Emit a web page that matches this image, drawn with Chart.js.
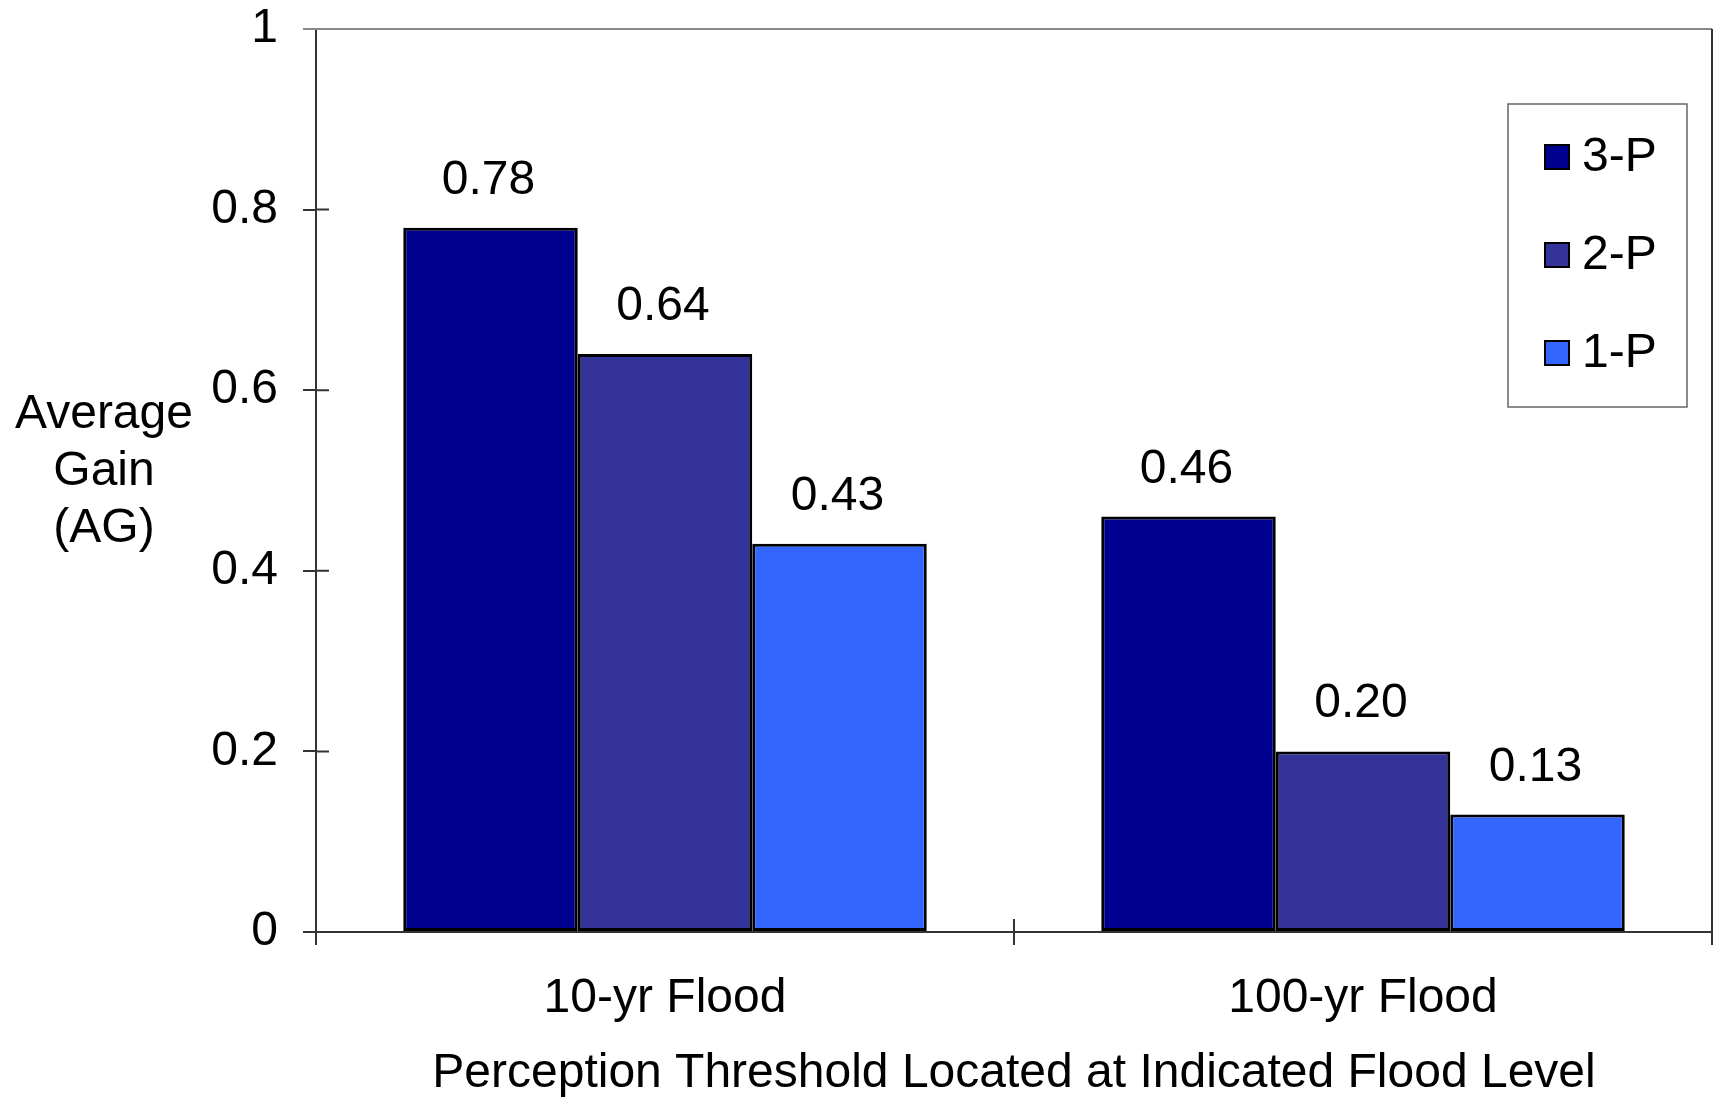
<!DOCTYPE html>
<html>
<head>
<meta charset="utf-8">
<script src="https://cdn.jsdelivr.net/npm/chart.js@4.4.1/dist/chart.umd.min.js"></script>
<style>
  body { margin: 0; background: #fff; }
  #wrap { width: 1715px; height: 1101px; }
</style>
</head>
<body>
<div id="wrap"><canvas id="myChart"></canvas></div>
<script>
const categories = ['10-yr Flood', '100-yr Flood'];
const seriesNames = ['3-P', '2-P', '1-P'];
const threeP = [0.78, 0.46];
const twoP = [0.64, 0.20];
const oneP = [0.43, 0.13];
const yTicks = [0, 0.2, 0.4, 0.6, 0.8, 1];
const yTitleLines = ['Average', 'Gain', '(AG)'];
const xTitle = 'Perception Threshold Located at Indicated Flood Level';

const FONT = '"Liberation Sans", Arial, sans-serif';
const FS = 48;
const AXIS = '#333333';

// value labels above bars
const valueLabels = {
    id: 'valueLabels',
    afterDatasetsDraw(chart) {
        const ctx = chart.ctx;
        ctx.save();
        ctx.font = FS + 'px ' + FONT;
        ctx.fillStyle = '#000';
        ctx.textAlign = 'center';
        ctx.textBaseline = 'alphabetic';
        chart.data.datasets.forEach((ds, i) => {
            chart.getDatasetMeta(i).data.forEach((bar, j) => {
                ctx.fillText(ds.data[j].toFixed(2), bar.x - 2, bar.y - 34);
            });
        });
        ctx.restore();
    }
};

// frame, inner halves of the tick marks, y title, legend box
const extras = {
    id: 'extras',
    afterDraw(chart) {
        const ctx = chart.ctx;
        const x = chart.scales.x, y = chart.scales.y;
        const area = chart.chartArea;
        ctx.save();
        // top line (gray) and right line (dark)
        ctx.strokeStyle = '#888';
        ctx.lineWidth = 2;
        ctx.beginPath();
        ctx.moveTo(area.left - 13, y.getPixelForValue(1));
        ctx.lineTo(area.right, y.getPixelForValue(1));
        ctx.stroke();
        ctx.strokeStyle = AXIS;
        ctx.beginPath();
        ctx.moveTo(area.right, area.top);
        ctx.lineTo(area.right, area.bottom);
        ctx.stroke();
        // tick marks crossing into the plot
        ctx.beginPath();
        yTicks.slice(1, -1).forEach(v => {
            const py = y.getPixelForValue(v);
            ctx.moveTo(area.left, py);
            ctx.lineTo(area.left + 13, py);
        });
        for (let i = 0; i < categories.length - 1; i++) {
            const px = (x.getPixelForValue(i) + x.getPixelForValue(i + 1)) / 2;
            ctx.moveTo(px, area.bottom - 13);
            ctx.lineTo(px, area.bottom);
        }
        ctx.stroke();

        // y title, horizontal, three lines
        ctx.font = FS + 'px ' + FONT;
        ctx.fillStyle = '#000';
        ctx.textAlign = 'center';
        ctx.textBaseline = 'alphabetic';
        yTitleLines.forEach((t, i) => {
            ctx.fillText(t, 104, 428 + i * 57);
        });

        // legend
        const bx = area.right - 204, by = area.top + 75, bw = 179, bh = 303;
        ctx.fillStyle = '#fff';
        ctx.fillRect(bx, by, bw, bh);
        ctx.strokeStyle = '#666';
        ctx.lineWidth = 1.5;
        ctx.strokeRect(bx, by, bw, bh);
        chart.data.datasets.forEach((ds, i) => {
            const cy = by + 53 + i * 98;
            ctx.fillStyle = ds.backgroundColor;
            ctx.fillRect(bx + 37, cy - 12, 24, 24);
            ctx.strokeStyle = '#000';
            ctx.lineWidth = 2;
            ctx.strokeRect(bx + 37, cy - 12, 24, 24);
            ctx.fillStyle = '#000';
            ctx.textAlign = 'left';
            ctx.textBaseline = 'middle';
            ctx.fillText(ds.label, bx + 74, cy + 1);
        });
        ctx.restore();
    }
};

const ctx = document.getElementById('myChart').getContext('2d');
new Chart(ctx, {
    type: 'bar',
    data: {
        labels: categories,
        datasets: [
            { label: seriesNames[0], data: threeP, backgroundColor: '#000090' },
            { label: seriesNames[1], data: twoP, backgroundColor: '#333399' },
            { label: seriesNames[2], data: oneP, backgroundColor: '#3366FF' }
        ].map(d => Object.assign(d, { borderColor: '#000', borderWidth: 3, borderSkipped: false }))
    },
    options: {
        responsive: true,
        maintainAspectRatio: false,
        animation: false,
        layout: { padding: { top: 29, right: 3, left: 0, bottom: 0 } },
        datasets: { bar: { categoryPercentage: 0.75, barPercentage: 1.0 } },
        plugins: { legend: { display: false }, tooltip: { enabled: false } },
        scales: {
            x: {
                grid: { drawOnChartArea: false, tickLength: 13, color: AXIS, lineWidth: 2, offset: true },
                border: { color: AXIS, width: 2 },
                ticks: { color: '#000', font: { family: FONT, size: FS }, padding: 25 },
                title: { display: true, text: xTitle, color: '#000', font: { family: FONT, size: FS }, padding: { top: 0, bottom: -2 } },
                afterFit(scale) { scale.height = 169; scale.paddingLeft = 0; scale.paddingRight = 0; }
            },
            y: {
                min: 0,
                max: 1,
                afterBuildTicks(scale) { scale.ticks = yTicks.map(v => ({ value: v })); },
                grid: { drawOnChartArea: false, tickLength: 13, color: AXIS, lineWidth: 2 },
                border: { color: AXIS, width: 2 },
                ticks: { color: '#000', font: { family: FONT, size: FS }, padding: 25, callback: v => String(v) },
                afterFit(scale) { scale.width = 316; scale.paddingTop = 0; scale.paddingBottom = 0; }
            }
        }
    },
    plugins: [valueLabels, extras]
});
</script>
</body>
</html>
